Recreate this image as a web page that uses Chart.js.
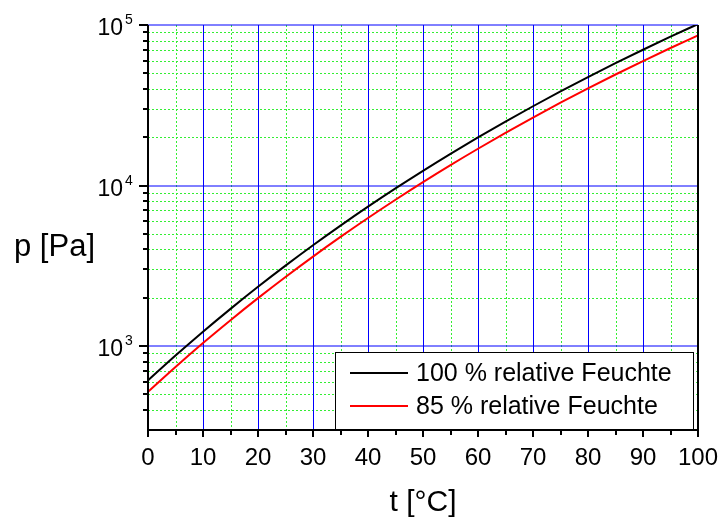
<!DOCTYPE html>
<html><head><meta charset="utf-8">
<script src="https://cdn.jsdelivr.net/npm/chart.js@4/dist/chart.umd.min.js"></script>
<style>html,body{margin:0;padding:0;background:#fff;}canvas{display:block;}</style>
</head><body>
<canvas id="c" width="723" height="519"></canvas>
<script>
// ---- data ----
const temps = [0,5,10,15,20,25,30,35,40,45,50,55,60,65,70,75,80,85,90,95,100];
const p100 = [611,872,1228,1705,2339,3169,4246,5628,7384,9593,12350,15760,19940,25020,31180,38570,47390,57830,70140,84550,101400];
const p85  = [519,741,1044,1449,1988,2694,3609,4784,6276,8154,10500,13400,16950,21270,26500,32790,40280,49160,59620,71870,86190];
const seriesLabels = ['100 % relative Feuchte','85 % relative Feuchte'];
const xMajor = [0,10,20,30,40,50,60,70,80,90,100];
const xMinor = [5,15,25,35,45,55,65,75,85,95];
const yMajor = [1000,10000,100000];
const yMajorExp = ['3','4','5'];
const yMinor = [400,500,600,700,800,900,2000,3000,4000,5000,6000,7000,8000,9000,20000,30000,40000,50000,60000,70000,80000,90000];
const xTitle = 't [°C]';
const yTitle = 'p [Pa]';

const FONT = '"Liberation Sans", Arial, Helvetica, sans-serif';

function seg(ctx,x1,y1,x2,y2){ctx.beginPath();ctx.moveTo(x1,y1);ctx.lineTo(x2,y2);ctx.stroke();}

const deco = {
  id:'deco',
  beforeDatasetsDraw(chart){
    const {ctx, chartArea:a, scales:{x,y}} = chart;
    ctx.save();
    ctx.beginPath(); ctx.rect(a.left, a.top-1, a.right-a.left, a.bottom-a.top+2); ctx.clip();
    ctx.lineWidth = 1;
    ctx.strokeStyle = '#33ee33';
    ctx.setLineDash([2,2]);
    xMinor.forEach(v=>{const px=Math.round(x.getPixelForValue(v))+0.5; seg(ctx,px,a.top,px,a.bottom);});
    yMinor.forEach(v=>{const py=Math.round(y.getPixelForValue(v))+0.5; seg(ctx,a.left,py,a.right,py);});
    ctx.setLineDash([]);
    ctx.strokeStyle = '#0000ff';
    xMajor.forEach(v=>{const px=Math.round(x.getPixelForValue(v))+0.5; seg(ctx,px,a.top,px,a.bottom);});
    yMajor.forEach(v=>{const py=Math.round(y.getPixelForValue(v)); seg(ctx,a.left,py,a.right,py);});
    ctx.restore();
  },
  afterDatasetsDraw(chart){
    const {ctx, chartArea:a, scales:{x,y}} = chart;
    ctx.save();
    ctx.strokeStyle = '#000'; ctx.lineWidth = 2;
    // axes frame (left, bottom, right)
    seg(ctx,a.left,a.top,a.left,a.bottom+1);
    seg(ctx,a.left-1,a.bottom,a.right+1,a.bottom);
    seg(ctx,a.right,a.top,a.right,a.bottom+1);
    // y ticks
    yMajor.forEach(v=>{const py=Math.round(y.getPixelForValue(v)); seg(ctx,a.left-9,py,a.left,py);});
    yMinor.forEach(v=>{const py=Math.round(y.getPixelForValue(v)); seg(ctx,a.left-5,py,a.left,py);});
    // x ticks
    xMajor.forEach(v=>{const px=Math.round(x.getPixelForValue(v)); seg(ctx,px,a.bottom,px,a.bottom+7);});
    xMinor.forEach(v=>{const px=Math.round(x.getPixelForValue(v)); seg(ctx,px,a.bottom,px,a.bottom+5);});
    // y tick labels 10^n
    ctx.fillStyle = '#000';
    yMajor.forEach((v,i)=>{
      const py = y.getPixelForValue(v);
      ctx.font = '23px ' + FONT; ctx.textAlign='right'; ctx.textBaseline='alphabetic';
      ctx.fillText('10', 123, py+10);
      ctx.font = '14px ' + FONT; ctx.textAlign='left';
      ctx.fillText(yMajorExp[i], 125, py-1);
    });
    // y title
    ctx.font = '31px ' + FONT; ctx.textAlign='left'; ctx.textBaseline='middle';
    ctx.fillText(yTitle, 14, 247);
    // legend
    const lx=335, ly=352, lw=358, lh=77;
    ctx.fillStyle='#fff'; ctx.fillRect(lx,ly,lw,lh);
    ctx.lineWidth=1; ctx.strokeStyle='#000'; ctx.strokeRect(lx+0.5,ly+0.5,lw,lh);
    chart.data.datasets.forEach((ds,i)=>{
      const yy = 373 + i*33;
      ctx.strokeStyle = ds.borderColor; ctx.lineWidth=2;
      seg(ctx,350,yy,408,yy);
      ctx.fillStyle='#000'; ctx.font='25px '+FONT; ctx.textAlign='left'; ctx.textBaseline='middle';
      ctx.fillText(ds.label, 416, yy+1);
    });
    ctx.restore();
  }
};

new Chart(document.getElementById('c'), {
  type:'line',
  data:{
    datasets:[
      {label:seriesLabels[0], data:temps.map((t,i)=>({x:t,y:p100[i]})), borderColor:'#000000', borderWidth:2, pointRadius:0, fill:false, cubicInterpolationMode:'monotone'},
      {label:seriesLabels[1], data:temps.map((t,i)=>({x:t,y:p85[i]})), borderColor:'#ff0000', borderWidth:2, pointRadius:0, fill:false, cubicInterpolationMode:'monotone'}
    ]
  },
  options:{
    responsive:false, animation:false,
    layout:{padding:{left:0,right:25,top:25,bottom:0}},
    plugins:{legend:{display:false}, tooltip:{enabled:false}},
    scales:{
      x:{type:'linear', min:0, max:100,
         grid:{display:false, drawTicks:true, tickLength:14}, border:{display:false},
         ticks:{stepSize:10, autoSkip:false, maxRotation:0, padding:0, color:'#000', font:{family:FONT, size:24}},
         title:{display:true, text:xTitle, color:'#000', font:{family:FONT, size:30}, padding:{top:0,bottom:-2}},
         afterFit(s){s.height=89;}
      },
      y:{type:'logarithmic', min:300, max:100000,
         grid:{display:false, drawTicks:false}, border:{display:false},
         ticks:{display:false},
         afterFit(s){s.width=148;}
      }
    }
  },
  plugins:[deco]
});
</script>
</body></html>
